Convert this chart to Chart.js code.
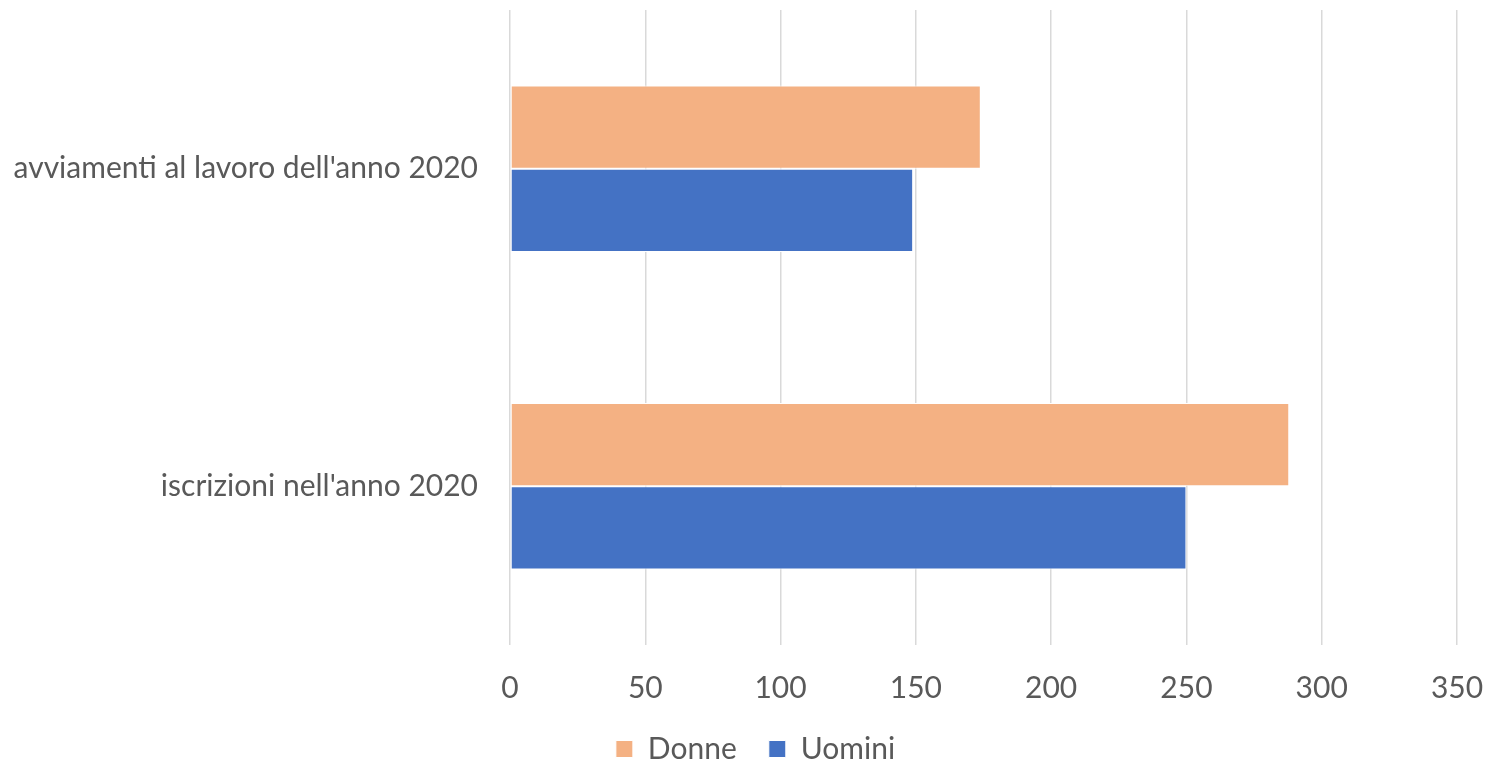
<!DOCTYPE html>
<html>
<head>
<meta charset="utf-8">
<script src="https://cdn.jsdelivr.net/npm/chart.js@4/dist/chart.umd.min.js"></script>
<style>
  html, body { margin: 0; padding: 0; background: #ffffff; }
  #wrap { width: 1506px; height: 762px; }
</style>
</head>
<body>
<div id="wrap"><canvas id="c" width="1506" height="762"></canvas></div>
<script>
const categories = ["avviamenti al lavoro dell'anno 2020", "iscrizioni nell'anno 2020"];
const donne = [174, 288];
const uomini = [149, 250];
const xTicks = [0, 50, 100, 150, 200, 250, 300, 350];

const FONT = "Lato, 'Open Sans', sans-serif";
const TEXT = '#595959';
const LEGEND_H = 47;      // space reserved for the legend row
const LEGEND_MID = 749;   // vertical centre of the legend row
const LEGEND_SHIFT = 27;  // horizontal offset of the legend row

// Keeps the legend row compact while its items stay widely spaced.
const legendPlace = {
  id: 'legendPlace',
  beforeLayout(chart) {
    const lg = chart.legend;
    if (!lg || lg._compact) return;
    const fit = lg.fit.bind(lg);
    lg.fit = function () { fit(); this.height = LEGEND_H; };
    lg._compact = true;
  },
  afterLayout(chart) {
    const lg = chart.legend;
    if (!lg) return;
    const pad = lg.options.labels.padding;
    const size = lg.options.labels.font.size;
    lg.top = LEGEND_MID - size / 2 - pad;
    lg.bottom = chart.height;
    lg.left += LEGEND_SHIFT;
    lg.right += LEGEND_SHIFT;
  }
};

new Chart(document.getElementById('c'), {
  type: 'bar',
  data: {
    labels: categories,
    datasets: [
      { label: 'Donne', data: donne, backgroundColor: '#F4B183', borderColor: '#ffffff', borderWidth: 1, borderSkipped: false },
      { label: 'Uomini', data: uomini, backgroundColor: '#4472C4', borderColor: '#ffffff', borderWidth: 1, borderSkipped: false }
    ]
  },
  plugins: [legendPlace],
  options: {
    indexAxis: 'y',
    responsive: false,
    animation: false,
    devicePixelRatio: 1,
    layout: { padding: { top: 10, right: 49, left: 0, bottom: 0 } },
    datasets: { bar: { barPercentage: 1, categoryPercentage: 0.525 } },
    scales: {
      x: {
        min: 0, max: 350,
        afterBuildTicks: (s) => { s.ticks = xTicks.map(v => ({ value: v })); },
        afterFit: (s) => { s.height = 70; s.paddingLeft = 0; s.paddingRight = 0; },
        grid: { color: '#D9D9D9', lineWidth: 1.5, drawTicks: false },
        border: { display: false },
        ticks: { color: TEXT, font: { family: FONT, size: 30, lineHeight: 1 }, padding: 28 }
      },
      y: {
        afterFit: (s) => { s.width = 510; s.paddingTop = 0; s.paddingBottom = 0; },
        grid: { display: false, drawTicks: false },
        border: { display: false },
        ticks: { color: TEXT, font: { family: FONT, size: 30 }, padding: 32 }
      }
    },
    plugins: {
      legend: {
        position: 'bottom',
        labels: { color: TEXT, font: { family: FONT, size: 30, lineHeight: 1 }, boxWidth: 17, boxHeight: 17, padding: 32 }
      },
      tooltip: { enabled: false }
    }
  }
});
</script>
</body>
</html>
